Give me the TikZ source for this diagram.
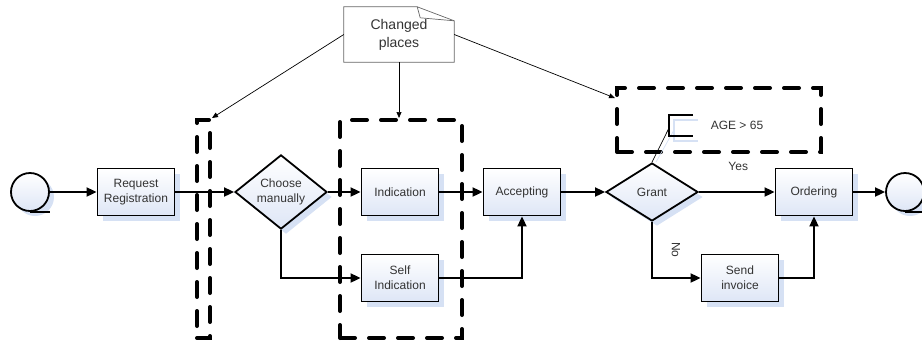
\documentclass[tikz,border=0pt]{standalone}
\usepackage{fontspec}
\setmainfont{Liberation Sans}
\usetikzlibrary{arrows.meta,shapes.geometric,shadows}
\definecolor{boxblue}{RGB}{222,230,246}
\definecolor{shadeblue}{RGB}{214,225,244}
\definecolor{labelgray}{RGB}{51,51,51}

\begin{document}
\begin{tikzpicture}[x=1pt, y=-1pt,
	every node/.style={font=\fontsize{12}{15}\selectfont, text=labelgray, align=center},
	>={Triangle[length=10pt,width=9pt]},
	flow/.style={line width=1.8pt, ->},
	task/.style={draw, line width=1.8pt, minimum width=77pt, minimum height=47pt, inner sep=0pt,
		top color=white, bottom color=boxblue,
		drop shadow={shadow xshift=5pt, shadow yshift=-5pt, fill=shadeblue, opacity=1}},
	gate/.style={task, diamond, minimum width=92pt, minimum height=58pt},
	event/.style={task, circle, minimum size=38pt},
	group/.style={draw, line width=4pt, dash pattern=on 15pt off 14pt, line cap=round, inner sep=0pt},
	pointer/.style={line width=0.7pt, -{Triangle[length=6pt,width=5pt]}}]
	\useasboundingbox (0,0) rectangle (922,341);

	% process
	\node[event] (start) at (30,192) {};
	\node[task] (req) at (136,192) {Request\\Registration};
	\node[gate] (choose) at (281,192) {Choose\\manually};
	\node[task] (ind) at (400,192) {Indication};
	\node[task] (self) at (400,278) {Self\\Indication};
	\node[task] (acc) at (522,192) {Accepting};
	\node[gate] (grant) at (652,192) {Grant};
	\node[task] (order) at (814,192) {Ordering};
	\node[task] (send) at (740,278) {Send\\invoice};
	\node[event] (end) at (905,192) {};
	\draw[line width=1.8pt] (start.south) -- ++(20,0);
	\draw[line width=1.8pt] (end.south) -- ++(20,0);

	\draw[flow] (start) -- (req);
	\draw[flow] (req) -- (choose);
	\draw[flow] (choose) -- (ind);
	\draw[flow] (choose.south) |- (self.west);
	\draw[flow] (ind) -- (acc);
	\draw[flow] (self.east) -| (acc.south);
	\draw[flow] (acc) -- (grant);
	\draw[flow] (grant) -- (order) node[pos=0.52, above=17pt] {Yes};
	\draw[flow] (grant.south) |- (send.west) node[pos=0.25, xshift=24pt, rotate=-90] {No};
	\draw[flow] (send.east) -| (order.south);
	\draw[flow] (order) -- (end);

	% changed places
	\node[group, minimum width=13pt, minimum height=218pt] (grpA) at (203.5,229) {};
	\node[group, minimum width=122pt, minimum height=218pt] (grpB) at (401,229) {};
	\node[group, minimum width=204pt, minimum height=64pt] (grpC) at (719,120) {};

	\node[minimum width=110pt, minimum height=55pt, inner sep=0pt, font=\fontsize{14}{18}\selectfont] (note) at (399,34.5) {Changed\\places};
	\draw[line width=0.7pt, draw=black!60] (note.north west) -- ([xshift=-37pt]note.north east)
		-- ([yshift=-14pt]note.north east) -- (note.south east) -- (note.south west) -- cycle;
	\draw[line width=0.7pt, draw=black!60] ([xshift=-37pt]note.north east) -- ([xshift=-34pt,yshift=-11pt]note.north east)
		-- ([yshift=-14pt]note.north east);
	\draw[pointer] (note.west) -- (grpA.north east);
	\draw[pointer] (note.south) -- (note.south |- grpB.north);
	\draw[pointer] (note.east) -- ([yshift=-12pt]grpC.north west);

	% condition
	\coordinate (brk) at (669,128);
	\draw[shadeblue, line width=1.5pt] (698,120) -- (674,120) -- (674,141) -- (698,141);
	\draw[shadeblue, line width=0.7pt] (674,130) -- ([xshift=4pt]grant.north);
	\draw[line width=2pt] (693,115) -- (669,115) -- (669,136) -- (693,136);
	\node (age) at (737,125) {AGE > 65};
	\draw[line width=0.7pt] (brk) -- (grant.north);
\end{tikzpicture}
\end{document}
